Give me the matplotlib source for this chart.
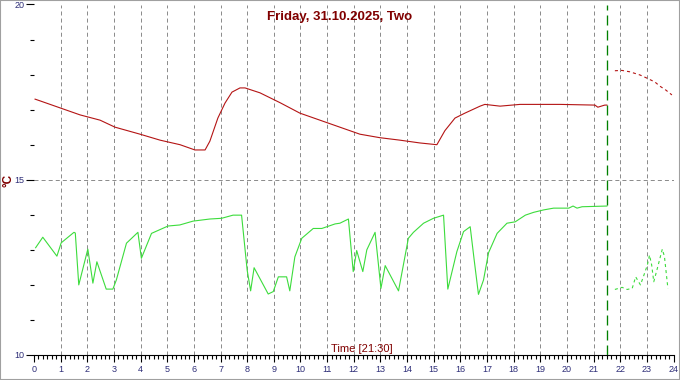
import matplotlib
matplotlib.use("Agg")
import matplotlib.pyplot as plt
from matplotlib.ticker import MultipleLocator, FixedLocator
from matplotlib.patches import Rectangle

plt.rcParams['font.family'] = ['Liberation Sans', 'DejaVu Sans']
plt.rcParams['lines.scale_dashes'] = False

# measured values (hour of day, degC)
red_hours = [0.04, 0.23, 0.98, 1.73, 2.48, 3.04, 3.98, 4.73, 5.48, 6.04, 6.42, 6.6,
             6.9, 7.17, 7.43, 7.73, 7.92, 8.48, 9.23, 9.98, 10.73, 11.48, 12.23,
             12.98, 13.73, 14.48, 15.12, 15.42, 15.8, 16.17, 16.74, 16.92, 17.49,
             18.24, 19.74, 21.05, 21.16, 21.42, 21.5]
red_temp = [17.30, 17.25, 17.05, 16.85, 16.7, 16.5, 16.3, 16.13, 16.0, 15.85, 15.85, 16.1,
            16.76, 17.19, 17.5, 17.62, 17.62, 17.48, 17.2, 16.9, 16.7, 16.5, 16.3,
            16.2, 16.13, 16.05, 16.0, 16.4, 16.76, 16.9, 17.1, 17.15, 17.1,
            17.15, 17.15, 17.13, 17.07, 17.13, 17.13]

red_fc_hours = [21.8, 22.06, 22.36, 22.74, 23.0, 23.3, 23.49, 23.71, 23.94]
red_fc_temp = [18.11, 18.12, 18.08, 17.99, 17.9, 17.79, 17.67, 17.56, 17.42]

green_hours = [0.06, 0.33, 0.86, 1.02, 1.5, 1.55, 1.68, 2.02, 2.21, 2.36, 2.71, 2.96,
               3.09, 3.47, 3.9, 4.03, 4.41, 5.03, 5.47, 5.97, 6.6, 7.04, 7.47, 7.79,
               8.0, 8.13, 8.26, 8.79, 8.98, 9.17, 9.48, 9.6, 9.79, 10.05, 10.48, 10.8,
               11.3, 11.48, 11.8, 11.98, 12.11, 12.34, 12.49, 12.8, 13.02, 13.18, 13.68,
               14.05, 14.24, 14.62, 14.99, 15.37, 15.53, 15.87, 16.12, 16.37, 16.52,
               16.68, 16.87, 17.06, 17.38, 17.75, 18.06, 18.44, 18.75, 19.13, 19.5,
               20.07, 20.23, 20.38, 20.57, 21.5]
green_temp = [13.06, 13.36, 12.82, 13.2, 13.5, 13.48, 12.0, 13.02, 12.05, 12.66, 11.88, 11.88,
              12.14, 13.19, 13.5, 12.76, 13.47, 13.68, 13.71, 13.82, 13.88, 13.9, 13.99, 13.99,
              12.42, 11.83, 12.49, 11.74, 11.81, 12.23, 12.23, 11.83, 12.8, 13.33, 13.61, 13.61,
              13.74, 13.76, 13.88, 12.38, 12.98, 12.38, 13.0, 13.5, 11.9, 12.55, 11.83,
              13.33, 13.5, 13.76, 13.9, 13.99, 11.88, 12.95, 13.52, 13.66, 12.71,
              11.73, 12.14, 12.92, 13.47, 13.76, 13.8, 13.99, 14.07, 14.14, 14.19,
              14.19, 14.25, 14.19, 14.23, 14.25]

green_fc_hours = [21.8, 22.07, 22.26, 22.45, 22.58, 22.76, 22.89, 23.02, 23.1, 23.18,
                  23.26, 23.41, 23.58, 23.66, 23.79]
green_fc_temp = [11.87, 11.93, 11.87, 11.9, 12.23, 12.0, 12.28, 12.57, 12.85, 12.57,
                 12.09, 12.52, 13.02, 12.81, 11.9]

now_hour = 21.5
title = "Friday, 31.10.2025, Two"
time_label = "Time [21:30]"

RED = '#b41414'
GREEN = '#3cdc3c'
NAVY = '#2e2e78'
DARKRED = '#800000'

fig = plt.figure(figsize=(6.8, 3.8), dpi=100)
ax = fig.add_axes([34 / 680, 1 - 355 / 380, (673.5 - 34) / 680, (355 - 4.5) / 380])

# grid
for h in range(1, 24):
    ax.axvline(h, color='#8a8a8a', lw=0.7, dashes=(2.9, 2.2), zorder=1)
ax.axhline(15, color='#8a8a8a', lw=0.7, dashes=(2.9, 2.2), zorder=1)

ax.plot(red_hours, red_temp, color=RED, lw=0.8, zorder=3)
ax.plot(red_fc_hours, red_fc_temp, color=RED, lw=0.8, dashes=(2.2, 2.2), zorder=3)
ax.plot(green_hours, green_temp, color=GREEN, lw=0.8, zorder=3)
ax.plot(green_fc_hours, green_fc_temp, color=GREEN, lw=0.8, dashes=(2.2, 2.2), zorder=3)

ax.axvline(now_hour, color='#008000', lw=0.95, dashes=(7.2, 3.6), zorder=4)

ax.set_xlim(0, 24)
ax.set_ylim(10, 20)
for s in ['top', 'right', 'left']:
    ax.spines[s].set_visible(False)
ax.spines['bottom'].set_linewidth(0.8)

ax.xaxis.set_major_locator(MultipleLocator(1))
ax.xaxis.set_minor_locator(MultipleLocator(1 / 6))
ax.yaxis.set_major_locator(FixedLocator([10, 15, 20]))
ax.yaxis.set_minor_locator(MultipleLocator(1))
ax.tick_params(axis='x', which='major', length=5, width=0.8, pad=2,
               labelsize=6.5, labelcolor=NAVY)
ax.tick_params(axis='x', which='minor', length=2.6, width=0.8)
ax.tick_params(axis='y', which='major', length=6, width=0.8, pad=1,
               labelsize=6.5, labelcolor=NAVY)
ax.tick_params(axis='y', which='minor', length=3, width=0.8)

ax.text(12.3, 10.08, time_label, color=DARKRED, fontsize=8, ha='center', va='baseline')
fig.text(0.5, 0.954, title, color=DARKRED, fontsize=9.5, fontweight='bold',
         ha='center', va='center')
fig.text(9 / 680, 1 - 180 / 380, "°C", color=DARKRED, fontsize=8.5, fontweight='bold',
         rotation=90, ha='center', va='center')

fig.patches.append(Rectangle((0, 0), 1, 1, transform=fig.transFigure, fill=False,
                             edgecolor='#a0a0a0', lw=1.5))

fig.savefig("out.png", dpi=100)
